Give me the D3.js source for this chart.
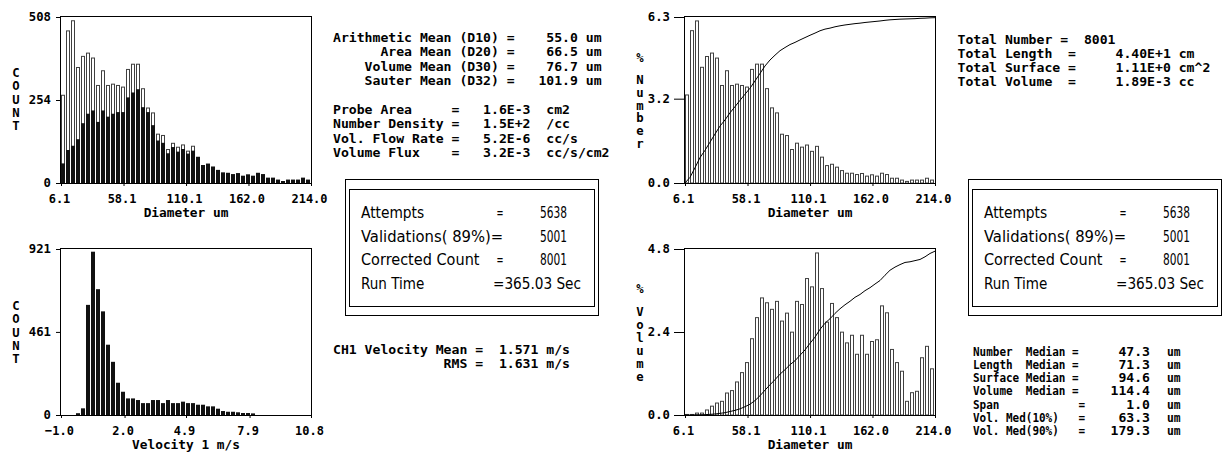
<!DOCTYPE html>
<html>
<head>
<meta charset="utf-8">
<script src="https://cdn.jsdelivr.net/npm/d3@7"></script>
<style>
  html, body { margin: 0; padding: 0; background: #fff; }
  svg { display: block; background: #fff; }
  text { font-family: "DejaVu Sans Mono", "Liberation Mono", monospace; font-weight: bold; fill: #000; white-space: pre; }
  .box text { font-family: "Liberation Sans Narrow", "DejaVu Sans Condensed", "Liberation Sans", sans-serif; font-weight: normal; }
</style>
</head>
<body>
<svg id="chart" width="1224" height="458"></svg>
<script>
// ---- axis ticks ----
const diameterTicks = [6.1, 58.1, 110.1, 162.0, 214.0];
const velocityTicks = [-1.0, 2.0, 4.9, 7.9, 10.8];
const countTicks = [0, 254, 508];
const velocityCountTicks = [0, 461, 921];
const numberPctTicks = [0.0, 3.2, 6.3];
const volumePctTicks = [0.0, 2.4, 4.8];

// ---- size classes (50 bins) ----
const diameterCountAll = [
  270, 467, 498, 355, 389, 399, 384, 300, 345, 300,
  304, 300, 295, 349, 365, 365, 290, 231, 216, 151,
  147, 104, 123, 111, 118,  99, 114,  80,  55,  59,
   50,  40,  32,  31,  27,  30,  22,  26,  22,  31,
   27,  16,  16,  10,   6,  10,  10,  10,  16,  10];
const diameterCountValid = [
   60, 101, 114, 134, 183, 212, 222, 187, 222, 203,
  212, 217, 217, 262, 277, 287, 232, 217, 177, 130,
  123,  91, 110,  96, 104,  90,  99,  80,  55,  59,
   50,  40,  32,  31,  27,  30,  22,  26,  22,  31,
   27,  16,  16,  10,   6,  10,  10,  10,  16,  10];

// ---- velocity classes (50 bins) ----
const velocityCount = [
    0,   0,   0,  10,  37, 611, 906, 698, 575, 390,
  295, 179, 129,  92,  92,  83,  66,  66,  83,  83,
   66,  83,  66,  66,  74,  66,  66,  57,  57,  48,
   48,  35,  22,  18,  18,  15,  11,  11,   9,   0,
    0,   0,   0,   0,   0,   0,   0,   0,   0,   0];

// ---- % number per size class and cumulative % at class edges ----
const numberPercent = [
  3.36, 5.80, 6.17, 4.41, 4.82, 4.95, 4.76, 3.72, 4.28, 3.72,
  3.77, 3.72, 3.66, 4.33, 4.53, 4.53, 3.60, 2.87, 2.68, 1.87,
  1.82, 1.29, 1.53, 1.38, 1.46, 1.22, 1.41, 1.00, 0.68, 0.73,
  0.62, 0.49, 0.39, 0.39, 0.34, 0.38, 0.28, 0.33, 0.28, 0.39,
  0.34, 0.20, 0.20, 0.13, 0.08, 0.13, 0.13, 0.13, 0.20, 0.13];
const numberCumulative = [
  0, 3.4, 9.2, 15.3, 19.7, 24.6, 29.5, 34.3, 38.0, 42.3, 46.0,
  49.8, 53.5, 57.1, 61.5, 66.0, 70.5, 74.1, 77.0, 79.7, 81.6,
  83.4, 84.7, 86.2, 87.6, 89.0, 90.3, 91.7, 92.7, 93.3, 94.1,
  94.7, 95.2, 95.6, 96.0, 96.3, 96.7, 97.0, 97.3, 97.6, 98.0,
  98.3, 98.5, 98.7, 98.8, 98.9, 99.0, 99.2, 99.3, 99.5, 99.6];

// ---- % volume per size class and cumulative % at class edges ----
const volumePercent = [
  0.03, 0.03, 0.07, 0.07, 0.16, 0.27, 0.36, 0.41, 0.65, 0.72,
  0.97, 1.24, 1.53, 2.22, 2.83, 3.40, 3.26, 3.07, 3.30, 2.73,
  2.96, 2.41, 3.30, 3.21, 3.96, 3.72, 4.70, 3.67, 2.70, 3.24,
  2.83, 2.41, 2.10, 2.32, 1.77, 2.32, 1.77, 2.14, 2.19, 3.17,
  2.97, 1.91, 1.53, 1.28, 0.41, 0.66, 0.70, 1.67, 2.00, 1.35];
const volumeCumulative = [
  0, 0.0, 0.1, 0.1, 0.2, 0.4, 0.6, 1.0, 1.4, 2.1, 2.8,
  3.7, 5.0, 6.5, 8.7, 11.6, 15.0, 18.2, 21.3, 24.6, 27.3,
  30.3, 32.7, 36.0, 39.2, 43.2, 46.9, 51.6, 55.3, 58.0, 61.2,
  64.0, 66.4, 68.5, 70.9, 72.6, 74.9, 76.7, 78.9, 81.0, 84.2,
  87.2, 89.1, 90.6, 91.9, 92.3, 93.0, 93.7, 95.3, 97.3, 98.7];

// ---- statistics ----
const meanLabels = ["Arithmetic Mean (D10)", "Area Mean (D20)", "Volume Mean (D30)", "Sauter Mean (D32)"];
const meanValues = [55.0, 66.5, 76.7, 101.9];
const probeLabels = ["Probe Area", "Number Density", "Vol. Flow Rate", "Volume Flux"];
const probeValues = ["1.6E-3", "1.5E+2", "5.2E-6", "3.2E-3"];
const probeUnits = ["cm2", "/cc", "cc/s", "cc/s/cm2"];
const countLabels = ["Attempts", "Validations( 89%)=", "Corrected Count", "Run Time"];
const countValues = ["5638", "5001", "8001", "=365.03 Sec"];
const velocityStatLabels = ["CH1 Velocity Mean", "RMS"];
const velocityStatValues = [1.571, 1.631];
const totalLabels = ["Total Number", "Total Length", "Total Surface", "Total Volume"];
const totalValues = ["8001", "4.40E+1", "1.11E+0", "1.89E-3"];
const totalUnits = ["", "cm", "cm^2", "cc"];
const medianLabels = ["Number  Median", "Length  Median", "Surface Median", "Volume  Median", "Span", "Vol. Med(10%)", "Vol. Med(90%)"];
const medianValues = [47.3, 71.3, 94.6, 114.4, 1.0, 63.3, 179.3];

const svg = d3.select("#chart");
const CW = 7.9;

// text run stretched to a fixed cell width per character
function mono(parent, x, y, str, size, cw, anchor) {
  const t = parent.append("text")
    .attr("x", x).attr("y", y)
    .attr("font-size", size || 12)
    .text(str);
  if (str.trim().length) {
    t.attr("textLength", (cw || CW) * str.length).attr("lengthAdjust", "spacingAndGlyphs");
  }
  if (anchor) t.attr("text-anchor", anchor);
  return t;
}

function fit(sel, cw) {
  sel.each(function () {
    const s = this.textContent;
    d3.select(this).attr("textLength", s.length * cw).attr("lengthAdjust", "spacingAndGlyphs");
  });
}

function drawPanel(p) {
  const g = svg.append("g");
  const n = p.layers[0].values.length;
  const x = d3.scaleLinear().domain(p.xDomain).range([p.left, p.right]);
  const y = d3.scaleLinear().domain([0, p.yMax]).range([p.bottom, p.top]);
  const binW = (p.xDomain[1] - p.xDomain[0]) / n;
  const edge = i => Math.round(x(p.xDomain[0] + i * binW));

  p.layers.forEach(layer => {
    const sel = g.append("g").selectAll("rect").data(layer.values).join("rect");
    if (layer.kind === "outline") {
      sel.attr("x", (d, i) => edge(i) + 0.5)
        .attr("y", d => y(d) + 0.5)
        .attr("width", (d, i) => edge(i + 1) - edge(i) - 2)
        .attr("height", d => Math.max(0, p.bottom - y(d) - 0.5))
        .attr("fill", "#fff").attr("stroke", "#404040").attr("stroke-width", 1);
    } else {
      sel.attr("x", (d, i) => edge(i))
        .attr("y", d => y(d))
        .attr("width", (d, i) => edge(i + 1) - edge(i) - 1)
        .attr("height", d => p.bottom - y(d))
        .attr("fill", "#111");
    }
  });

  if (p.cumulative) {
    const yc = d3.scaleLinear().domain([0, 100]).range([p.bottom, p.top]);
    const line = d3.line().x((d, i) => edge(i)).y(d => yc(d));
    g.append("path").attr("d", line(p.cumulative))
      .attr("fill", "none").attr("stroke", "#000").attr("stroke-width", 1);
  }

  // plot frame
  g.append("rect")
    .attr("x", p.left - 0.5).attr("y", p.top - 0.5)
    .attr("width", p.right - p.left + 1).attr("height", p.bottom - p.top + 1)
    .attr("fill", "none").attr("stroke", "#000").attr("stroke-width", 1);

  // value axis
  const ya = g.append("g").attr("transform", `translate(${p.left - 1},0)`)
    .call(d3.axisLeft(y).tickValues(p.yTicks).tickFormat(p.yFmt)
      .tickSize(p.tickLen).tickPadding(p.yPad));
  ya.select(".domain").remove();
  ya.selectAll("line").attr("stroke", "#000");
  fit(ya.selectAll("text").attr("font-size", 12), 7.4);

  // class axis
  const xa = g.append("g").attr("transform", `translate(0,${p.bottom})`)
    .call(d3.axisBottom(x).tickValues(p.xTicks).tickFormat(d3.format(".1f"))
      .tickSize(3).tickPadding(8));
  xa.select(".domain").remove();
  xa.selectAll("line").attr("stroke", "#000");
  fit(xa.selectAll("text").attr("font-size", 13).attr("dx", -2), 7.2);

  mono(g, (p.left + p.right) / 2, p.bottom + 33.5, p.xTitle, 12.5, 7.7, "middle");

  // stacked vertical title
  if (p.lead) mono(g, p.titleX, p.leadY, p.lead, 12, 7.4, "middle");
  p.title.split("").forEach((c, k) => {
    mono(g, p.titleX, p.titleY + k * p.titlePitch, c, 12, 7.4, "middle");
  });
}

const common = { tickLen: 4, yPad: 5 };

drawPanel({
  ...common, left: 61, right: 311, top: 17, bottom: 183,
  xDomain: [6.1, 214.0], xTicks: diameterTicks, yMax: 508, yTicks: countTicks, yFmt: d3.format("d"),
  layers: [{ kind: "outline", values: diameterCountAll }, { kind: "solid", values: diameterCountValid }],
  xTitle: "Diameter um", title: "COUNT", titleX: 16, titleY: 77, titlePitch: 13.25
});

drawPanel({
  ...common, left: 61, right: 311, top: 249, bottom: 415,
  xDomain: [-1.0, 10.8], xTicks: velocityTicks, yMax: 921, yTicks: velocityCountTicks, yFmt: d3.format("d"),
  layers: [{ kind: "solid", values: velocityCount }],
  xTitle: "Velocity 1 m/s", title: "COUNT", titleX: 16, titleY: 310, titlePitch: 13.25
});

drawPanel({
  tickLen: 10, yPad: 4, left: 685, right: 935, top: 17, bottom: 183,
  xDomain: [6.1, 214.0], xTicks: diameterTicks, yMax: 6.3, yTicks: numberPctTicks, yFmt: d3.format(".1f"),
  layers: [{ kind: "outline", values: numberPercent }], cumulative: numberCumulative,
  xTitle: "Diameter um", lead: "%", leadY: 62, title: "Number", titleX: 640, titleY: 84, titlePitch: 12.8
});

drawPanel({
  tickLen: 10, yPad: 4, left: 685, right: 935, top: 249, bottom: 415,
  xDomain: [6.1, 214.0], xTicks: diameterTicks, yMax: 4.8, yTicks: volumePctTicks, yFmt: d3.format(".1f"),
  layers: [{ kind: "outline", values: volumePercent }], cumulative: volumeCumulative,
  xTitle: "Diameter um", lead: "%", leadY: 293, title: "Volume", titleX: 640, titleY: 316, titlePitch: 13
});

// ---- text panels ----
const txt = svg.append("g");

meanLabels.forEach((l, k) => {
  const s = l.padStart(21) + " =" + meanValues[k].toFixed(1).padStart(8) + " um";
  mono(txt, 333, 41.5 + k * 14.5, s);
});

probeLabels.forEach((l, k) => {
  const s = l.padEnd(15) + "=   " + probeValues[k].padEnd(8) + probeUnits[k];
  mono(txt, 333, 114 + k * 14.3, s);
});

velocityStatLabels.forEach((l, k) => {
  const s = l.padStart(17) + " =  " + velocityStatValues[k].toFixed(3) + " m/s";
  mono(txt, 333, 354 + k * 13.5, s);
});

totalLabels.forEach((l, k) => {
  const s = k === 0
    ? l + " =  " + totalValues[k]
    : l.padEnd(14) + "=" + totalValues[k].padStart(12) + " " + totalUnits[k];
  mono(txt, 957.5, 44 + k * 14, s);
});

// median block: label column ends in "=", then value and unit columns
medianLabels.forEach((l, k) => {
  const yy = 355.5 + k * 13.3;
  const isMedian = l.indexOf("Median") >= 0;
  mono(txt, 973, yy, l.padEnd(isMedian ? 15 : 16) + "=", 12, 6.6);
  mono(txt, 1150, yy, medianValues[k].toFixed(1), 12, 7.9, "end");
  mono(txt, 1167, yy, "um", 12, 6.8);
});

// ---- counter boxes ----
function drawBox(bx) {
  const by = 179.5;
  const g = svg.append("g").attr("class", "box");
  g.append("rect").attr("x", bx).attr("y", by).attr("width", 253).attr("height", 136)
    .attr("fill", "none").attr("stroke", "#000");
  g.append("rect").attr("x", bx + 4).attr("y", by + 10).attr("width", 245).attr("height", 117)
    .attr("fill", "none").attr("stroke", "#000");
  countLabels.forEach((l, k) => {
    const yy = by + 38.5 + k * 23.5;
    mono(g, bx + 15.5, yy, l, 15, 7.9);
    const v = countValues[k];
    if (!l.endsWith("=") && !v.startsWith("=")) mono(g, bx + 154.5, yy, "=", 15, 7, "middle");
    if (v.startsWith("=")) mono(g, bx + 147.5, yy, v, 15, 8);
    else mono(g, bx + 221.5, yy, v, 15, 6.75, "end");
  });
}
drawBox(345.5);
drawBox(968.5);
</script>
</body>
</html>
